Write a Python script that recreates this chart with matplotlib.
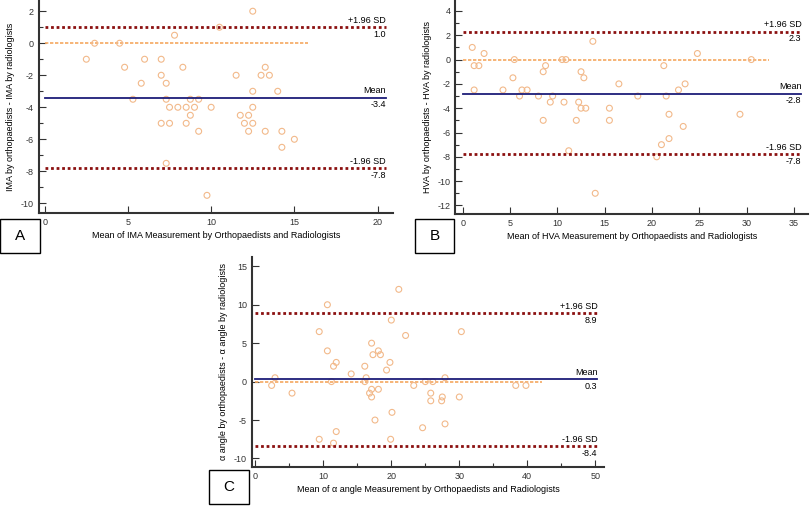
import matplotlib.pyplot as plt
from matplotlib.patches import Rectangle

plt.rcParams['font.family'] = ['Liberation Sans', 'DejaVu Sans']
plt.rcParams['axes.unicode_minus'] = False

# Panel A - IMA
ima_mean = [2.5, 3.0, 4.5, 4.8, 5.3, 5.8, 6.0, 7.0, 7.0, 7.0, 7.3, 7.3, 7.3, 7.5, 7.5, 7.8,
            8.0, 8.3, 8.5, 8.5, 8.75, 8.75, 9.0, 9.25, 9.25, 9.75, 10.0, 10.5, 11.5, 11.75,
            12.0, 12.25, 12.25, 12.5, 12.5, 12.5, 12.5, 13.0, 13.25, 13.25, 13.5, 14.0,
            14.25, 14.25, 15.0]
ima_diff = [-1, 0, 0, -1.5, -3.5, -2.5, -1, -1, -2, -5, -2.5, -7.5, -3.5, -4, -5, 0.5,
            -4, -1.5, -4, -5, -4.5, -3.5, -4, -3.5, -5.5, -9.5, -4, 1.0, -2, -4.5,
            -5, -4.5, -5.5, 2, -3, -4, -5, -2, -1.5, -5.5, -2, -3,
            -5.5, -6.5, -6]
ima_limits = [1.0, -3.4, -7.8]

# Panel B - HVA
hva_mean = [1.0, 1.2, 1.7, 1.2, 2.25, 4.25, 5.3, 5.45, 6.0, 6.25, 6.8, 8.0, 8.5, 8.75, 8.5,
            9.25, 9.5, 10.5, 10.9, 10.7, 11.2, 12.0, 12.25, 12.5, 12.8, 12.5, 13.0, 13.75,
            14.0, 15.5, 15.5, 16.5, 18.5, 20.5, 21.0, 21.25, 21.5, 21.8, 21.8, 22.8, 23.3,
            23.5, 24.8, 29.3, 30.5]
hva_diff = [1, -0.5, -0.5, -2.5, 0.5, -2.5, -1.5, 0, -3, -2.5, -2.5, -3, -1, -0.5, -5,
            -3.5, -3, 0, 0, -3.5, -7.5, -5, -3.5, -1, -1.5, -4, -4, 1.5,
            -11, -4, -5, -2, -3, -8, -7, -0.5, -3, -4.5, -6.5, -2.5, -5.5,
            -2, 0.5, -4.5, 0]
hva_limits = [2.3, -2.8, -7.8]

# Panel C - alpha angle
alpha_mean = [2.4, 2.9, 5.4, 9.4, 9.4, 10.6, 10.6, 11.2, 11.5, 11.9, 11.9, 11.5, 14.1, 16.1,
              16.1, 16.3, 16.8, 17.1, 17.1, 17.1, 17.3, 17.6, 18.1, 18.4, 18.1, 19.3, 19.8,
              19.9, 20.0, 20.1, 21.1, 22.1, 23.3, 24.6, 25.0, 25.8, 25.8, 26.1, 27.4, 27.5,
              27.9, 27.9, 30.0, 30.3, 38.3, 39.8]
alpha_diff = [-0.5, 0.5, -1.5, 6.5, -7.5, 10, 4, 0, 2, 2.5, -6.5, -8, 1, 2,
              0, 0.5, -1.5, -1, -2, 5, 3.5, -5, 4, 3.5, -1, 1.5, 2.5,
              -7.5, 8, -4, 12, 6, -0.5, -6, 0, -1.5, -2.5, 0, -2.5, -2,
              -5.5, 0.5, -2, 6.5, -0.5, -0.5]
alpha_limits = [8.9, 0.3, -8.4]

panels = [
    dict(rect=[0.048, 0.580, 0.437, 0.420], x=ima_mean, y=ima_diff, lim=ima_limits,
         xlim=(-0.35, 20.5), ylim=(-10.6, 2.7), xticks=range(0, 21, 5), yticks=range(-10, 3, 2),
         xminor=[], yminor=range(-10, 3, 1), fit_end=15.8,
         xlabel='Mean of IMA Measurement by Orthopaedists and Radiologists',
         ylabel='IMA by orthopaedists - IMA by radiologists', tag='A', box=(0.0, 0.501)),
    dict(rect=[0.562, 0.578, 0.436, 0.422], x=hva_mean, y=hva_diff, lim=hva_limits,
         xlim=(-0.8, 35.8), ylim=(-12.7, 4.9), xticks=range(0, 36, 5), yticks=range(-12, 5, 2),
         xminor=[], yminor=range(-12, 5, 1), fit_end=32.4,
         xlabel='Mean of HVA Measurement by Orthopaedists and Radiologists',
         ylabel='HVA by orthopaedists - HVA by radiologists', tag='B', box=(0.512, 0.501)),
    dict(rect=[0.311, 0.079, 0.435, 0.414], x=alpha_mean, y=alpha_diff, lim=alpha_limits,
         xlim=(-0.5, 50.3), ylim=(-11.1, 16.2), xticks=range(0, 51, 10), yticks=range(-10, 16, 5),
         xminor=range(0, 51, 5), yminor=[], fit_end=42.1,
         xlabel='Mean of \u03b1 angle Measurement by Orthopaedists and Radiologists',
         ylabel='\u03b1 angle by orthopaedists - \u03b1 angle by radiologists', tag='C',
         box=(0.258, 0.006)),
]

fig = plt.figure(figsize=(8.1, 5.07), dpi=100)

for p in panels:
    ax = fig.add_axes(p['rect'])
    up, mean, low = p['lim']
    x0, x1 = p['xlim']
    ax.plot([0, p['fit_end']], [0, 0], color='#F5A860', lw=1.2, ls=(0, (2, 1)), zorder=2)
    ax.scatter(p['x'], p['y'], s=18, facecolors='none', edgecolors='#F2B98A', linewidths=0.8, zorder=3)
    ax.plot([0, x1], [mean, mean], color='#1C1C78', lw=1.3, zorder=4)
    for v in (up, low):
        ax.plot([0, x1], [v, v], color='#8B1010', lw=2.0, ls=(0, (1, 1)), zorder=4)
    off = (p['ylim'][1] - p['ylim'][0]) * 0.012
    ax.text(x1, up + off, '+1.96 SD', ha='right', va='bottom', fontsize=6.5)
    ax.text(x1, up - off, f'{up:.1f}', ha='right', va='top', fontsize=6.5)
    ax.text(x1, mean + off, 'Mean', ha='right', va='bottom', fontsize=6.5)
    ax.text(x1, mean - off, f'{mean:.1f}', ha='right', va='top', fontsize=6.5)
    ax.text(x1, low + off, '-1.96 SD', ha='right', va='bottom', fontsize=6.5)
    ax.text(x1, low - off, f'{low:.1f}', ha='right', va='top', fontsize=6.5)

    ax.set_xlim(x0, x1 + (x1 - x0) * 0.02)
    ax.set_ylim(*p['ylim'])
    ax.set_xticks(list(p['xticks']))
    ax.set_yticks(list(p['yticks']))
    if len(p['xminor']):
        ax.set_xticks(list(p['xminor']), minor=True)
    if len(p['yminor']):
        ax.set_yticks(list(p['yminor']), minor=True)
    ax.tick_params(direction='in', labelsize=6.5, length=5, width=0.8, colors='#333333')
    ax.tick_params(which='minor', direction='in', length=3, width=0.8, colors='#333333')
    for s in ('top', 'right'):
        ax.spines[s].set_visible(False)
    for s in ('left', 'bottom'):
        ax.spines[s].set_linewidth(1.5)
        ax.spines[s].set_color('#333333')
    ax.set_xlabel(p['xlabel'], fontsize=6.5, labelpad=3)
    ax.set_ylabel(p['ylabel'], fontsize=6.5, labelpad=4)

    bx, by = p['box']
    fig.patches.append(Rectangle((bx, by), 0.049, 0.067, transform=fig.transFigure,
                                 fill=False, edgecolor='black', lw=1.0))
    fig.text(bx + 0.0245, by + 0.0335, p['tag'], ha='center', va='center', fontsize=11)

fig.savefig('out.png', dpi=100)
